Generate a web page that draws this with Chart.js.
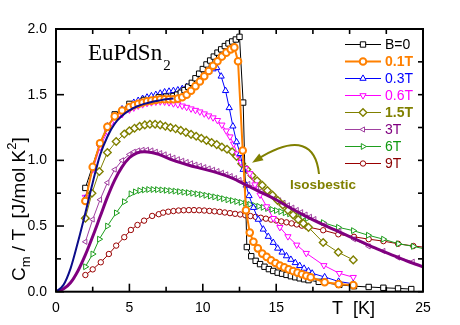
<!DOCTYPE html>
<html>
<head>
<meta charset="utf-8">
<script src="https://cdn.jsdelivr.net/npm/chart.js@4.4.0/dist/chart.umd.min.js"></script>
<style>
  html, body { margin: 0; padding: 0; background: #fff; }
  canvas { display: block; }
</style>
</head>
<body>
<canvas id="cv" width="460" height="325"></canvas>
<script>
// Cm/T [J/mol K^2] vs T [K]
const tB0 = [2.0, 3.0, 4.0, 5.0, 6.0, 7.0, 7.5, 8.0, 8.25, 8.5, 8.75, 9.0, 9.25, 9.5, 9.75, 10.0, 10.25, 10.5, 10.75, 11.0, 11.25, 11.5, 11.75, 12.0, 12.25, 12.5, 12.75, 13.0, 13.3, 13.6, 13.9, 14.2, 14.5, 14.8, 15.1, 15.4, 15.7, 16.0, 16.3, 16.6, 16.9, 17.2, 17.9, 19.3, 20.3, 21.3, 22.3, 23.3, 24.2];
const cB0 = [0.79, 1.13, 1.35, 1.43, 1.46, 1.48, 1.485, 1.49, 1.50, 1.515, 1.535, 1.56, 1.59, 1.625, 1.66, 1.695, 1.73, 1.76, 1.79, 1.82, 1.845, 1.87, 1.89, 1.905, 1.92, 1.94, 1.44, 0.34, 0.27, 0.235, 0.21, 0.19, 0.172, 0.158, 0.145, 0.137, 0.128, 0.118, 0.11, 0.102, 0.095, 0.088, 0.075, 0.052, 0.042, 0.036, 0.03, 0.025, 0.02];

const t01 = [2.0, 2.5, 3.0, 3.5, 4.0, 4.5, 5.0, 5.3, 5.6, 5.9, 6.2, 6.5, 6.8, 7.1, 7.4, 7.7, 8.0, 8.3, 8.6, 8.9, 9.2, 9.5, 9.8, 10.1, 10.4, 10.7, 11.0, 11.3, 11.6, 11.9, 12.15, 12.4, 12.72, 12.94, 13.2, 13.45, 13.75, 14.05, 14.35, 14.65, 14.95, 15.25, 15.55, 15.85, 16.15, 16.45, 16.75, 17.05, 17.35, 18.3, 19.25, 20.25];
const c01 = [0.69, 0.95, 1.13, 1.255, 1.335, 1.38, 1.405, 1.42, 1.43, 1.44, 1.45, 1.455, 1.46, 1.465, 1.465, 1.465, 1.465, 1.47, 1.48, 1.50, 1.53, 1.565, 1.60, 1.64, 1.68, 1.72, 1.755, 1.79, 1.82, 1.845, 1.86, 1.755, 1.075, 0.62, 0.45, 0.38, 0.33, 0.29, 0.265, 0.24, 0.218, 0.20, 0.185, 0.17, 0.157, 0.145, 0.133, 0.122, 0.11, 0.072, 0.058, 0.05];

const t03 = [2.0, 2.5, 3.0, 3.5, 4.0, 4.5, 5.0, 5.3, 5.6, 5.9, 6.2, 6.5, 6.8, 7.1, 7.4, 7.7, 8.0, 8.3, 8.6, 8.9, 9.2, 9.5, 9.8, 10.1, 10.4, 10.7, 10.95, 11.25, 11.55, 11.8, 12.05, 12.3, 12.55, 12.75, 12.95, 13.15, 13.45, 13.78, 14.12, 14.46, 14.8, 15.1, 15.4, 15.7, 16.0, 16.3, 16.6, 16.9, 17.2, 17.45, 18.3, 19.25, 20.25];
const c03 = [0.71, 0.95, 1.13, 1.26, 1.34, 1.39, 1.42, 1.44, 1.455, 1.47, 1.48, 1.49, 1.50, 1.51, 1.52, 1.525, 1.53, 1.535, 1.545, 1.56, 1.58, 1.60, 1.625, 1.65, 1.675, 1.695, 1.705, 1.64, 1.53, 1.40, 1.26, 1.14, 1.05, 0.93, 0.81, 0.73, 0.64, 0.55, 0.475, 0.42, 0.374, 0.33, 0.30, 0.272, 0.245, 0.22, 0.198, 0.177, 0.158, 0.14, 0.112, 0.078, 0.06];

const t06 = [2.0, 2.5, 3.0, 3.5, 4.0, 4.5, 5.0, 5.3, 5.6, 5.9, 6.2, 6.5, 6.8, 7.1, 7.4, 7.7, 8.0, 8.3, 8.6, 8.9, 9.2, 9.5, 9.8, 10.1, 10.4, 10.7, 11.0, 11.3, 11.6, 11.85, 12.1, 12.35, 12.6, 12.9, 13.2, 13.55, 13.9, 14.35, 14.8, 15.25, 15.8, 16.4, 17.05, 18.25, 19.3, 20.25];
const c06 = [0.72, 0.93, 1.10, 1.22, 1.30, 1.35, 1.385, 1.40, 1.415, 1.425, 1.435, 1.44, 1.445, 1.447, 1.445, 1.44, 1.432, 1.425, 1.415, 1.405, 1.393, 1.382, 1.37, 1.355, 1.34, 1.325, 1.305, 1.27, 1.225, 1.18, 1.125, 1.05, 0.985, 0.94, 0.90, 0.815, 0.737, 0.648, 0.559, 0.49, 0.42, 0.356, 0.293, 0.20, 0.14, 0.11];

const t15 = [2.0, 2.45, 2.95, 3.5, 4.1, 4.65, 5.0, 5.35, 5.7, 6.05, 6.4, 6.75, 7.1, 7.45, 7.8, 8.15, 8.5, 8.85, 9.2, 9.55, 9.9, 10.25, 10.6, 10.95, 11.3, 11.65, 12.0, 12.3, 12.65, 13.0, 13.35, 13.7, 14.05, 14.4, 14.75, 15.1, 15.45, 15.8, 16.15, 16.5, 16.85, 17.2, 18.2, 19.23, 20.25];
const c15 = [0.56, 0.75, 0.915, 1.06, 1.143, 1.20, 1.225, 1.245, 1.26, 1.27, 1.275, 1.275, 1.27, 1.26, 1.25, 1.24, 1.228, 1.213, 1.198, 1.183, 1.168, 1.152, 1.136, 1.12, 1.102, 1.085, 1.065, 1.03, 0.975, 0.93, 0.885, 0.845, 0.81, 0.77, 0.735, 0.695, 0.66, 0.62, 0.585, 0.55, 0.52, 0.49, 0.375, 0.30, 0.242];

const t3 = [2.0, 2.5, 3.0, 3.5, 4.0, 4.5, 5.0, 5.3, 5.6, 5.9, 6.2, 6.5, 6.8, 7.1, 7.4, 7.7, 8.0, 8.3, 8.6, 8.9, 9.2, 9.5, 9.8, 10.1, 10.4, 10.7, 11.0, 11.3, 11.6, 11.9, 12.2, 12.5, 12.8, 13.1, 13.4, 13.7, 14.0, 14.3, 14.6, 14.9, 15.2, 15.5, 15.8, 16.1, 16.4, 16.7, 17.0, 17.3, 17.6, 18.3, 19.3, 20.3, 21.3, 22.3, 23.3, 24.3];
const c3 = [0.38, 0.55, 0.70, 0.83, 0.93, 1.0, 1.045, 1.065, 1.075, 1.08, 1.08, 1.075, 1.065, 1.055, 1.045, 1.03, 1.02, 1.008, 0.997, 0.987, 0.977, 0.967, 0.958, 0.948, 0.938, 0.928, 0.918, 0.905, 0.893, 0.88, 0.865, 0.85, 0.835, 0.82, 0.80, 0.785, 0.768, 0.75, 0.732, 0.714, 0.695, 0.677, 0.658, 0.64, 0.622, 0.605, 0.587, 0.57, 0.553, 0.51, 0.46, 0.40, 0.345, 0.31, 0.26, 0.228];

const t6 = [2.0, 2.5, 2.95, 3.5, 4.1, 4.65, 5.1, 5.4, 5.7, 6.0, 6.3, 6.6, 6.9, 7.2, 7.5, 7.8, 8.1, 8.4, 8.7, 9.0, 9.3, 9.6, 9.9, 10.2, 10.5, 10.8, 11.1, 11.4, 11.7, 12.0, 12.3, 12.6, 12.9, 13.2, 13.5, 13.8, 14.1, 14.4, 14.7, 15.0, 15.3, 15.6, 15.9, 16.2, 16.5, 16.8, 17.1, 18.2, 19.23, 20.25, 21.27, 22.3, 23.32, 24.34, 25.35];
const c6 = [0.19, 0.287, 0.40, 0.50, 0.60, 0.685, 0.745, 0.76, 0.77, 0.775, 0.778, 0.778, 0.777, 0.775, 0.772, 0.769, 0.766, 0.762, 0.758, 0.754, 0.75, 0.745, 0.74, 0.734, 0.728, 0.722, 0.715, 0.708, 0.70, 0.694, 0.687, 0.68, 0.673, 0.665, 0.657, 0.65, 0.642, 0.634, 0.626, 0.618, 0.61, 0.601, 0.593, 0.584, 0.575, 0.566, 0.557, 0.526, 0.49, 0.465, 0.43, 0.40, 0.365, 0.345, 0.32];

const t9 = [2.0, 2.5, 3.05, 3.6, 4.1, 4.65, 5.1, 5.55, 6.0, 6.55, 7.0, 7.3, 7.65, 8.0, 8.35, 8.7, 9.05, 9.4, 9.75, 10.1, 10.45, 10.8, 11.15, 11.5, 11.85, 12.2, 12.55, 12.9, 13.25, 13.6, 13.95, 14.3, 14.65, 15.0, 15.35, 15.7, 16.05, 16.4, 16.75, 17.1, 18.2, 19.23, 20.3, 21.3, 22.3, 23.3, 24.34, 25.35];
const c9 = [0.127, 0.17, 0.224, 0.287, 0.351, 0.415, 0.47, 0.508, 0.541, 0.577, 0.59, 0.602, 0.609, 0.614, 0.618, 0.62, 0.621, 0.621, 0.62, 0.618, 0.615, 0.612, 0.608, 0.603, 0.598, 0.593, 0.588, 0.582, 0.576, 0.57, 0.563, 0.556, 0.549, 0.542, 0.535, 0.528, 0.52, 0.512, 0.503, 0.494, 0.468, 0.437, 0.418, 0.40, 0.385, 0.365, 0.348, 0.335];

// fit curves (solid lines, no markers)
const tFit0 = [0, 0.5, 1.0, 1.5, 2.0, 2.5, 3.0, 3.5, 4.0, 4.5, 5.0, 5.5, 6.0, 6.5, 7.0, 7.5, 8.0];
const cFit0 = [0, 0.05, 0.18, 0.38, 0.6, 0.83, 1.04, 1.18, 1.28, 1.34, 1.38, 1.41, 1.43, 1.445, 1.455, 1.465, 1.47];
const tFit3 = [0, 0.5, 1.0, 1.5, 2.0, 2.5, 3.0, 3.5, 4.0, 4.5, 5.0, 5.5, 6.0, 6.5, 7.0, 8.0, 9.0, 10.0, 11.0, 12.0, 13.0, 14.0, 15.0, 16.0, 17.0, 18.0, 19.0, 20.0, 21.0, 22.0, 23.0, 24.0, 25.0];
const cFit3 = [0, 0.02, 0.07, 0.16, 0.28, 0.42, 0.57, 0.72, 0.85, 0.95, 1.02, 1.055, 1.065, 1.06, 1.045, 1.0, 0.965, 0.935, 0.905, 0.865, 0.81, 0.755, 0.70, 0.635, 0.575, 0.52, 0.47, 0.42, 0.37, 0.32, 0.275, 0.23, 0.19];

const xMajor = [0, 5, 10, 15, 20, 25];
const xMinor = [2.5, 7.5, 12.5, 17.5, 22.5];
const yMajor = [0, 0.5, 1.0, 1.5, 2.0];
const yMinor = [0.25, 0.75, 1.25, 1.75];
const xHiddenLabels = [20];   // the axis title sits where "20" would be

const SANS = '"Liberation Sans", Arial, sans-serif';
const SERIF = '"Liberation Serif", "Times New Roman", serif';
Chart.defaults.font.family = SANS;

function series(ts, vs) {
  return ts.map((t, i) => ({ x: t, y: vs[i] }));
}

function marked(label, ts, vs, color, style, extra) {
  return Object.assign({
    label, data: series(ts, vs), showLine: true,
    borderColor: color, borderWidth: 1,
    pointStyle: style, pointRadius: 3.6, pointBorderWidth: 1,
    pointBorderColor: color, pointBackgroundColor: '#fff'
  }, extra || {});
}

// legend rows: dataset index, text colour, bold
const legendRows = [
  [0, '#000000', false], [1, '#ff8000', true], [2, '#0000ff', false], [3, '#ff00ff', false],
  [4, '#808000', true], [5, '#800080', false], [6, '#119911', false], [7, '#8b0000', false]
];

function line(ctx, x1, y1, x2, y2) {
  ctx.beginPath(); ctx.moveTo(x1, y1); ctx.lineTo(x2, y2); ctx.stroke();
}

const decor = {
  id: 'decor',
  afterDatasetsDraw(chart) {
    const { ctx, chartArea: a, scales: { x, y } } = chart;
    ctx.save();

    // inward ticks on all sides
    ctx.strokeStyle = '#000';
    ctx.lineWidth = 1.6;
    xMajor.forEach(v => { const p = x.getPixelForValue(v); line(ctx, p, a.bottom, p, a.bottom - 8); line(ctx, p, a.top, p, a.top + 5); });
    xMinor.forEach(v => { const p = x.getPixelForValue(v); line(ctx, p, a.bottom, p, a.bottom - 5); line(ctx, p, a.top, p, a.top + 5); });
    yMajor.forEach(v => { const p = y.getPixelForValue(v); line(ctx, a.left, p, a.left + 8, p); line(ctx, a.right, p, a.right - 5, p); });
    yMinor.forEach(v => { const p = y.getPixelForValue(v); line(ctx, a.left, p, a.left + 5, p); line(ctx, a.right, p, a.right - 5, p); });
    ctx.lineWidth = 2;
    ctx.strokeRect(a.left, a.top, a.right - a.left, a.bottom - a.top);

    // legend
    const ds = chart.data.datasets;
    legendRows.forEach(([idx, tc, bold], i) => {
      const d = ds[idx];
      const yy = 44.5 + i * 17;
      ctx.strokeStyle = d.borderColor;
      ctx.lineWidth = d.borderWidth;
      line(ctx, 345, yy, 381, yy);
      ctx.fillStyle = '#fff';
      ctx.strokeStyle = d.pointBorderColor;
      ctx.lineWidth = d.pointBorderWidth;
      Chart.helpers.drawPoint(ctx, {
        pointStyle: d.pointStyle, radius: d.pointRadius,
        rotation: d.pointRotation || 0, borderWidth: d.pointBorderWidth
      }, 363, yy);
      ctx.fillStyle = tc;
      ctx.font = (bold ? 'bold ' : '') + '14px ' + SANS;
      ctx.textBaseline = 'middle';
      ctx.textAlign = 'left';
      ctx.fillText(d.label, 385, yy + 1);
    });

    // compound name
    ctx.fillStyle = '#000';
    ctx.textBaseline = 'alphabetic';
    ctx.font = '23px ' + SERIF;
    ctx.fillText('EuPdSn', 88, 60);
    const w = ctx.measureText('EuPdSn').width;
    ctx.font = '15px ' + SERIF;
    ctx.fillText('2', 88 + w + 1, 70);

    // isosbestic note with arrow
    ctx.strokeStyle = '#808000';
    ctx.fillStyle = '#808000';
    ctx.lineWidth = 2;
    ctx.beginPath();
    ctx.moveTo(319, 174);
    ctx.bezierCurveTo(316, 145, 298, 134, 258, 159);
    ctx.stroke();
    const ang = Math.atan2(159 - 134, 258 - 298);
    const tipX = 258 + Math.cos(ang) * 7, tipY = 159 + Math.sin(ang) * 7;
    ctx.beginPath();
    ctx.moveTo(tipX, tipY);
    ctx.lineTo(tipX - Math.cos(ang) * 11 + Math.sin(ang) * 4, tipY - Math.sin(ang) * 11 - Math.cos(ang) * 4);
    ctx.lineTo(tipX - Math.cos(ang) * 11 - Math.sin(ang) * 4, tipY - Math.sin(ang) * 11 + Math.cos(ang) * 4);
    ctx.closePath();
    ctx.fill();
    ctx.font = 'bold 13.5px ' + SANS;
    ctx.fillText('Isosbestic', 290, 189);

    // axis titles
    ctx.fillStyle = '#000';
    ctx.font = '18px ' + SANS;
    ctx.fillText('T  [K]', 332, 313.5);

    ctx.translate(25, 281);
    ctx.rotate(-Math.PI / 2);
    let pos = 0;
    const part = (txt, size, dy) => {
      ctx.font = size + 'px ' + SANS;
      ctx.fillText(txt, pos, dy);
      pos += ctx.measureText(txt).width;
    };
    part('C', 19, 0);
    part('m', 13, 5);
    part(' / T  [J/mol K', 19, 0);
    part('2', 13, -9);
    part(']', 19, 0);

    ctx.restore();
  }
};

new Chart(document.getElementById('cv'), {
  type: 'scatter',
  data: {
    datasets: [
      marked('B=0', tB0, cB0, '#000000', 'rect', { pointRadius: 3.8, order: 3 }),
      marked('0.1T', t01, c01, '#ff8000', 'circle', { borderWidth: 2, pointRadius: 3.3, pointBorderWidth: 2, order: 2 }),
      marked('0.3T', t03, c03, '#0000ff', 'triangle', { order: 4 }),
      marked('0.6T', t06, c06, '#ff00ff', 'triangle', { pointRotation: 180, order: 5 }),
      marked('1.5T', t15, c15, '#808000', 'rectRot', { pointRadius: 3.8, pointBorderWidth: 1.4, order: 6 }),
      marked('3T', t3, c3, '#a040a0', 'triangle', { pointRotation: 270, pointRadius: 3, order: 7 }),
      marked('6T', t6, c6, '#1e9e1e', 'triangle', { pointRotation: 90, pointRadius: 3.4, order: 8 }),
      marked('9T', t9, c9, '#990000', 'circle', { pointRadius: 2.7, order: 9 }),
      { label: 'fit0', data: series(tFit0, cFit0), showLine: true, borderColor: '#0c0c8a', borderWidth: 2,
        pointRadius: 0, cubicInterpolationMode: 'monotone', order: 0 },
      { label: 'fit3', data: series(tFit3, cFit3), showLine: true, borderColor: '#800080', borderWidth: 3,
        pointRadius: 0, cubicInterpolationMode: 'monotone', order: 1 }
    ]
  },
  options: {
    responsive: false,
    animation: false,
    devicePixelRatio: 1,
    layout: { padding: { top: 29, right: 37, left: 0, bottom: 0 } },
    plugins: { legend: { display: false }, tooltip: { enabled: false } },
    scales: {
      x: {
        type: 'linear', min: 0, max: 25,
        grid: { display: false, drawTicks: false }, border: { display: false },
        ticks: { stepSize: 5, color: '#000', font: { size: 14 }, padding: 8, maxRotation: 0,
          callback: v => (xHiddenLabels.includes(v) ? '' : String(v)) },
        afterFit: s => { s.height = 33.3; }
      },
      y: {
        type: 'linear', min: 0, max: 2,
        grid: { display: false, drawTicks: false }, border: { display: false },
        ticks: { stepSize: 0.5, color: '#000', font: { size: 14 }, padding: 9, callback: v => v.toFixed(1) },
        afterFit: s => { s.width = 56; }
      }
    }
  },
  plugins: [decor]
});
</script>
</body>
</html>
